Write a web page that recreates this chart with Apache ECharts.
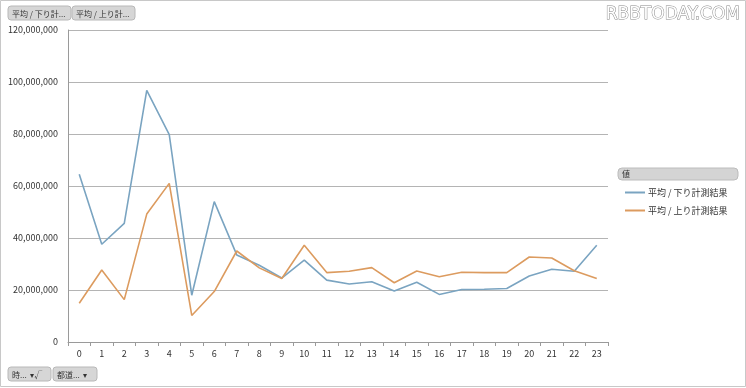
<!DOCTYPE html>
<html><head><meta charset="utf-8">
<script src="https://cdn.jsdelivr.net/npm/echarts@6/dist/echarts.min.js"></script>
<style>html,body{margin:0;padding:0;background:#fff;}#c{width:746px;height:388px;}</style>
</head><body><div id="c"></div>
<script>
const categories = ['0','1','2','3','4','5','6','7','8','9','10','11','12','13','14','15','16','17','18','19','20','21','22','23'];
const downloadAvg = [64500000,37600000,45600000,96800000,79800000,18000000,54000000,33500000,29500000,24600000,31500000,23800000,22300000,23200000,19600000,23000000,18300000,20200000,20300000,20600000,25400000,28000000,27200000,37200000];
const uploadAvg = [14900000,27700000,16300000,49200000,61000000,10200000,19400000,35000000,28500000,24400000,37200000,26700000,27200000,28600000,22800000,27300000,25100000,26800000,26700000,26700000,32700000,32300000,27400000,24400000];
const seriesNames = ['平均 / 下り計測結果','平均 / 上り計測結果'];
const yTicks = {min:0, max:120000000, interval:20000000};

const chart = echarts.init(document.getElementById('c'));
const font = '"Noto Sans CJK JP", "Noto Sans", sans-serif';
function btn(x,y,w,label){
  return {type:'group', children:[
    {type:'rect', shape:{x:x,y:y,width:w,height:14,r:3}, style:{fill:'#d6d6d6',stroke:'#b8b8b8',lineWidth:1}},
    {type:'text', style:{x:x+4,y:y+7.5,text:label,fontSize:8,fill:'#333',verticalAlign:'middle',fontFamily:font}}
  ]};
}
chart.setOption({
  animation:false,
  textStyle:{fontFamily:font},
  color:['#7aa4c1','#dc9b5f'],
  grid:{left:68,right:138,top:30,bottom:46},
  xAxis:{type:'category',data:categories,boundaryGap:true,
    axisLine:{lineStyle:{color:'#9a9a9a'}},
    axisTick:{show:true,length:4,lineStyle:{color:'#9a9a9a'}},
    axisLabel:{color:'#333',fontSize:9,margin:7}},
  yAxis:{type:'value',min:yTicks.min,max:yTicks.max,interval:yTicks.interval,
    axisLine:{show:true,lineStyle:{color:'#9a9a9a'}},
    axisTick:{show:false},
    splitLine:{lineStyle:{color:'#b4b4b4'}},
    axisLabel:{color:'#333',fontSize:9,margin:10,formatter:v=>v.toLocaleString('en-US')}},
  legend:{orient:'vertical',left:620,top:183,itemWidth:20,itemHeight:2,itemGap:9,
    icon:'rect',data:seriesNames,textStyle:{fontSize:9,color:'#333',padding:[0,0,0,-2]}},
  series:[
    {name:seriesNames[0],type:'line',data:downloadAvg,symbol:'none',lineStyle:{width:1.6}},
    {name:seriesNames[1],type:'line',data:uploadAvg,symbol:'none',lineStyle:{width:1.6}}
  ],
  graphic:[
    {type:'rect',shape:{x:0.5,y:0.5,width:745,height:386},style:{fill:'none',stroke:'#c8c8c8',lineWidth:1},silent:true},
    btn(8,6,63,'平均 / 下り計...'),
    btn(72,6,63,'平均 / 上り計...'),
    btn(8,367,43,'時...  ▾√'),
    btn(53,367,44,'都道...  ▾'),
    {type:'rect', shape:{x:618,y:168,width:120,height:12,r:4}, style:{fill:'#d4d4d4',stroke:'#bcbcbc',lineWidth:1}},
    {type:'text', style:{x:622,y:174,text:'値',fontSize:8,fill:'#333',verticalAlign:'middle',fontFamily:font}},
    {type:'text', style:{x:740,y:15,text:'RBBTODAY.COM',fontSize:17,fill:'#fff',stroke:'#888',lineWidth:1,align:'right',verticalAlign:'middle',fontFamily:'"DejaVu Sans", sans-serif'}}
  ]
});
</script></body></html>
